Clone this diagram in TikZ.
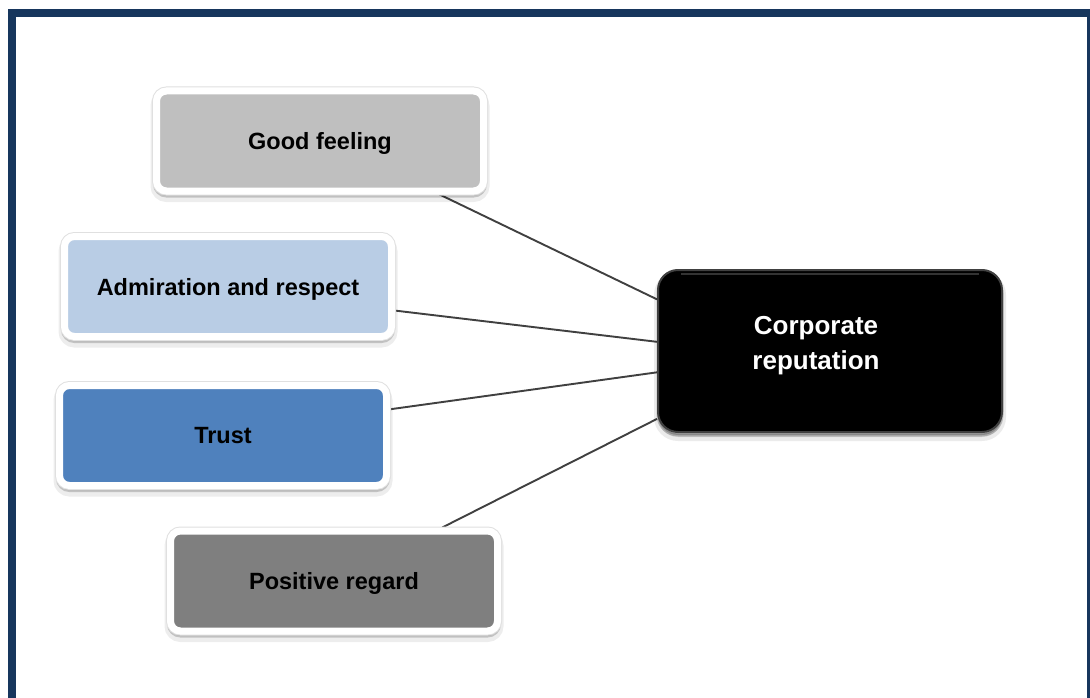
\documentclass[tikz,border=0pt]{standalone}
\usepackage{fontspec}
\setmainfont{Liberation Sans}
\usetikzlibrary{calc}
\definecolor{frame}{HTML}{17365D}
\definecolor{gfc}{HTML}{BFBFBF}
\definecolor{adc}{HTML}{B9CDE5}
\definecolor{trc}{HTML}{4F81BD}
\definecolor{prc}{HTML}{7F7F7F}
\definecolor{linec}{HTML}{404040}
\pgfdeclarelayer{bottom}
\pgfdeclarelayer{background}
\pgfsetlayers{bottom,background,main}
\tikzset{
  box/.style={rectangle, rounded corners=10pt, draw=white, line width=7pt,
    minimum width=327pt, minimum height=100pt, inner sep=0pt, text depth=0pt,
    font=\bfseries\fontsize{23.5}{28}\selectfont, text=black, align=center,
    preaction={draw=black, fill=black, opacity=.07, line width=12pt, transform canvas={yshift=-5pt}},
    preaction={draw=black, fill=black, opacity=.18, line width=7pt, transform canvas={yshift=-3pt}},
    preaction={draw=black!12, line width=9pt}},
  mainbox/.style={rectangle, rounded corners=20pt, draw=black!75, line width=2pt, fill=black,
    minimum width=344pt, minimum height=162pt, inner sep=0pt,
    preaction={draw=black, fill=black, opacity=.08, line width=8pt, transform canvas={yshift=-5pt}},
    preaction={draw=black, fill=black, opacity=.2, line width=3pt, transform canvas={yshift=-3pt}}},
  conn/.style={draw=linec, line width=1.9pt}
}
\begin{document}
\begin{tikzpicture}[x=1pt,y=-1pt]
\useasboundingbox (0,0) rectangle (1090,698);
\begin{pgfonlayer}{bottom}
\fill[white] (0,0) rectangle (1090,698);
\end{pgfonlayer}
\draw[frame, line width=8pt, line join=miter] (12,710) -- (12,13) -- (1091,13) -- (1091,710);

\node[box, fill=gfc] (gf) at (320,141) {Good feeling};
\node[box, fill=adc] (ad) at (228,286.5) {Admiration and respect};
\node[box, fill=trc] (tr) at (223,435.5) {Trust};
\node[box, fill=prc] (pr) at (334,581) {Positive regard};
\node[mainbox] (cr) at (830,351) {};
\node[font=\bfseries\fontsize{26}{35}\selectfont, text=white, align=center, inner sep=0pt] (crt) at (816,346) {Corporate\\reputation};
\draw[white, opacity=.2, line width=1.2pt] ($(cr.north west)+(24,5)$) coordinate (hl1) -- ($(cr.north east)+(-24,5)$) coordinate (hl2);

\begin{pgfonlayer}{background}
\draw[conn] ($(gf.south west)!0.858!(gf.south east)$) -- ($(cr.north west)!0.185!(cr.south west)$);
\draw[conn] ($(ad.north east)!0.725!(ad.south east)$) -- ($(cr.north west)!0.444!(cr.south west)$);
\draw[conn] ($(tr.north east)!0.255!(tr.south east)$) -- ($(cr.north west)!0.63!(cr.south west)$);
\draw[conn] ($(pr.north west)!0.824!(pr.north east)$) -- ($(cr.north west)!0.914!(cr.south west)$);
\end{pgfonlayer}
\end{tikzpicture}
\end{document}
